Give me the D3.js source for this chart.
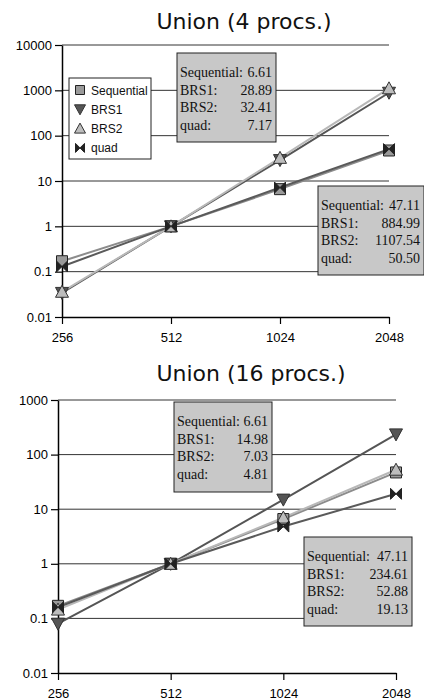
<!DOCTYPE html>
<html><head><meta charset="utf-8">
<script src="https://cdn.jsdelivr.net/npm/d3@7"></script>
<style>body{margin:0;background:#fff}svg{display:block}</style>
</head><body>
<svg id="c" width="424" height="700"></svg>
<script>
// ---- data ----
const categories = ["256", "512", "1024", "2048"];
const seriesNames = ["Sequential", "BRS1", "BRS2", "quad"];

const titles = ["Union (4 procs.)", "Union (16 procs.)"];

const seq4  = [0.17, 1, 6.61, 47.11];
const brs1_4 = [0.034, 1, 28.89, 884.99];
const brs2_4 = [0.036, 1, 32.41, 1107.54];
const quad4 = [0.13, 1, 7.17, 50.50];

const seq16  = [0.17, 1, 6.61, 47.11];
const brs1_16 = [0.08, 1, 14.98, 234.61];
const brs2_16 = [0.145, 1, 7.03, 52.88];
const quad16 = [0.16, 1, 4.81, 19.13];

const yTicks4 = [0.01, 0.1, 1, 10, 100, 1000, 10000];
const yTicks16 = [0.01, 0.1, 1, 10, 100, 1000];
const yTickLabels4 = ["0.01", "0.1", "1", "10", "100", "1000", "10000"];
const yTickLabels16 = ["0.01", "0.1", "1", "10", "100", "1000"];

// annotation boxes: [label, value]
const note4a = [["Sequential:", "6.61"], ["BRS1:", "28.89"], ["BRS2:", "32.41"], ["quad:", "7.17"]];
const note4b = [["Sequential:", "47.11"], ["BRS1:", "884.99"], ["BRS2:", "1107.54"], ["quad:", "50.50"]];
const note16a = [["Sequential:", "6.61"], ["BRS1:", "14.98"], ["BRS2:", "7.03"], ["quad:", "4.81"]];
const note16b = [["Sequential:", "47.11"], ["BRS1:", "234.61"], ["BRS2:", "52.88"], ["quad:", "19.13"]];

// ---- styles ----
const styles = {
  Sequential: {line: "#8c8c8c", fill: "#9a9a9a", stroke: "#222", shape: "square"},
  BRS1: {line: "#555555", fill: "#555555", stroke: "#333", shape: "down"},
  BRS2: {line: "#b8b8b8", fill: "#bdbdbd", stroke: "#333", shape: "up"},
  quad: {line: "#5a5a5a", fill: "#222", stroke: "#222", shape: "bowtie"}
};

const svg = d3.select("#c");

function markerPath(shape, s) {
  const p = d3.path();
  const h = s / 2;
  if (shape === "square") { p.rect(-h, -h, s, s); }
  else if (shape === "up") { p.moveTo(0, -h - 1); p.lineTo(h + 1, h); p.lineTo(-h - 1, h); p.closePath(); }
  else if (shape === "down") { p.moveTo(0, h + 1); p.lineTo(h + 1, -h); p.lineTo(-h - 1, -h); p.closePath(); }
  else if (shape === "bowtie") {
    p.moveTo(-h, -h); p.lineTo(0, 0); p.lineTo(-h, h); p.closePath();
    p.moveTo(h, -h); p.lineTo(0, 0); p.lineTo(h, h); p.closePath();
  }
  return p.toString();
}

function drawChart(cfg) {
  const g = svg.append("g");
  const x = d3.scalePoint().domain(categories).range([cfg.x0, cfg.x1]);
  const y = d3.scaleLog().domain([cfg.ticks[0], cfg.ticks[cfg.ticks.length - 1]]).range([cfg.yBottom, cfg.yTop]);

  g.append("text").attr("x", cfg.titleX).attr("y", cfg.titleY)
    .attr("text-anchor", "middle").attr("font-family", "DejaVu Sans, sans-serif")
    .attr("font-size", 22).attr("fill", "#111").text(cfg.title);

  // gridlines
  g.selectAll(".grid").data(cfg.ticks.slice(1)).enter().append("line")
    .attr("x1", cfg.x0).attr("x2", cfg.x1)
    .attr("y1", d => y(d)).attr("y2", d => y(d))
    .attr("stroke", "#333").attr("stroke-width", 1);

  // y axis
  const yAxis = d3.axisLeft(y).tickValues(cfg.ticks)
    .tickFormat((d, i) => cfg.tickLabels[i]).tickSize(7).tickSizeOuter(0);
  const ya = g.append("g").attr("transform", `translate(${cfg.x0},0)`).call(yAxis);
  ya.select(".domain").attr("stroke", "#000").attr("stroke-width", 1.5);
  ya.selectAll(".tick line").attr("stroke", "#000").attr("stroke-width", 1.2);
  ya.selectAll("text").attr("font-family", "Liberation Sans, Arial, sans-serif")
    .attr("font-size", 13).attr("fill", "#000").attr("x", -10);

  // x axis
  const xAxis = d3.axisBottom(x).tickSize(7).tickSizeOuter(0);
  const xa = g.append("g").attr("transform", `translate(0,${cfg.yBottom})`).call(xAxis);
  xa.select(".domain").attr("stroke", "#000").attr("stroke-width", 1.5);
  xa.selectAll(".tick line").attr("stroke", "#000").attr("stroke-width", 1.2);
  xa.selectAll("text").attr("font-family", "Liberation Sans, Arial, sans-serif")
    .attr("font-size", 13).attr("fill", "#000").attr("y", 15.5);

  // lines
  const line = d3.line().x((d, i) => x(categories[i])).y(d => y(d));
  cfg.series.forEach((vals, si) => {
    const st = styles[seriesNames[si]];
    g.append("path").datum(vals).attr("d", line).attr("fill", "none")
      .attr("stroke", st.line).attr("stroke-width", 2);
  });
  // markers
  cfg.series.forEach((vals, si) => {
    const st = styles[seriesNames[si]];
    g.selectAll(null).data(vals).enter().append("path")
      .attr("transform", (d, i) => `translate(${x(categories[i])},${y(d)})`)
      .attr("d", markerPath(st.shape, 11))
      .attr("fill", st.fill).attr("stroke", st.stroke).attr("stroke-width", 1);
  });

  // notes
  cfg.notes.forEach(n => {
    g.append("rect").attr("x", n.x).attr("y", n.y).attr("width", n.w).attr("height", n.h)
      .attr("fill", "#c8c8c8").attr("stroke", "#222").attr("stroke-width", 1);
    n.rows.forEach((r, i) => {
      const ty = n.y + 24 + i * 17.7;
      g.append("text").attr("x", n.x + 3).attr("y", ty)
        .attr("font-family", "Liberation Serif, Times New Roman, serif").attr("font-size", 14)
        .attr("fill", "#111").text(r[0]);
      g.append("text").attr("x", n.x + n.w - 4).attr("y", ty).attr("text-anchor", "end")
        .attr("font-family", "Liberation Serif, Times New Roman, serif").attr("font-size", 14)
        .attr("fill", "#111").text(r[1]);
    });
  });

  // legend
  if (cfg.legend) {
    const L = cfg.legend;
    g.append("rect").attr("x", L.x).attr("y", L.y).attr("width", L.w).attr("height", L.h)
      .attr("fill", "#fff").attr("stroke", "#222").attr("stroke-width", 1);
    seriesNames.forEach((name, i) => {
      const st = styles[name];
      const cy = L.y + 12 + i * 19.3;
      g.append("path").attr("transform", `translate(${L.x + 11},${cy})`)
        .attr("d", markerPath(st.shape, 9))
        .attr("fill", st.fill).attr("stroke", st.stroke).attr("stroke-width", 1);
      g.append("text").attr("x", L.x + 22).attr("y", cy + 4.5)
        .attr("font-family", "Liberation Sans, Arial, sans-serif").attr("font-size", 12)
        .attr("fill", "#111").text(name);
    });
  }
}

drawChart({
  title: titles[0], titleX: 244, titleY: 29,
  x0: 62, x1: 389, yTop: 45, yBottom: 317,
  ticks: yTicks4, tickLabels: yTickLabels4,
  series: [seq4, brs1_4, brs2_4, quad4],
  notes: [
    {x: 177, y: 53, w: 99, h: 89, rows: note4a},
    {x: 318, y: 186, w: 106, h: 89, rows: note4b}
  ],
  legend: {x: 69, y: 78, w: 82, h: 81}
});

drawChart({
  title: titles[1], titleX: 251, titleY: 381,
  x0: 58, x1: 396, yTop: 400, yBottom: 673,
  ticks: yTicks16, tickLabels: yTickLabels16,
  series: [seq16, brs1_16, brs2_16, quad16],
  notes: [
    {x: 174, y: 402, w: 98, h: 90, rows: note16a},
    {x: 304, y: 537, w: 108, h: 89, rows: note16b}
  ]
});
</script>
</body></html>
